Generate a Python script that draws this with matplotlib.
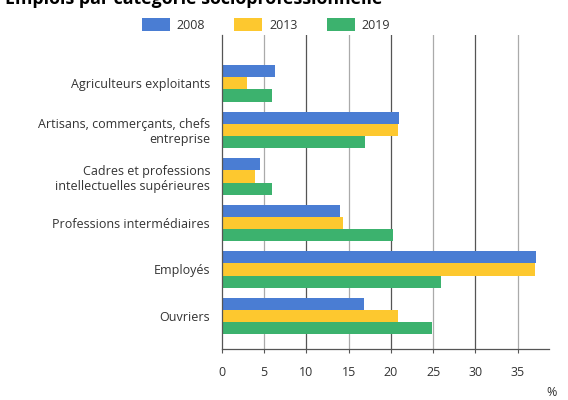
import numpy as np
import matplotlib
matplotlib.use("Agg")
import matplotlib.pyplot as plt
from matplotlib.patches import Patch

plt.rcParams['font.family'] = ['Open Sans', 'DejaVu Sans']

# Emplois par catégorie socioprofessionnelle (en %)
categories = [
    "Agriculteurs exploitants",
    "Artisans, commerçants, chefs\nentreprise",
    "Cadres et professions\nintellectuelles supérieures",
    "Professions intermédiaires",
    "Employés",
    "Ouvriers",
]
years = ["2008", "2013", "2019"]
vals_2008 = [6.3, 21.0, 4.5, 14.0, 37.2, 16.8]
vals_2013 = [3.0, 20.9, 3.9, 14.4, 37.0, 20.9]
vals_2019 = [6.0, 16.9, 6.0, 20.3, 25.9, 24.9]
colors = ['#4a7dd3', '#fdc82f', '#3cb26e']

fig = plt.figure(figsize=(5.68, 4), dpi=100)
ax = fig.add_axes([0.3903, 0.1268, 0.5762, 0.7857])

y = np.arange(len(categories))
h = 0.262
for i, vals in enumerate([vals_2008, vals_2013, vals_2019]):
    ax.barh(y + (i - 1) * h, vals, height=h, color=colors[i], zorder=2)

ax.set_xlim(0, 38.7)
ax.set_ylim(5.716, -1.04)

# grille : traits plus foncés tous les 10, plus clairs entre les deux
ax.set_xticks(np.arange(0, 36, 5))
for v in range(5, 36, 5):
    ax.axvline(v, color='#555555' if v % 10 == 0 else '#aaaaaa', lw=0.9, zorder=1)

ax.set_yticks(y)
ax.set_yticklabels(categories, fontsize=9, color='#333333', linespacing=1.2)
ax.tick_params(axis='y', length=0, pad=8.4)
ax.tick_params(axis='x', length=3, width=0.8, color='#555555', labelsize=9,
               labelcolor='#333333', pad=9)

for s in ['top', 'right']:
    ax.spines[s].set_visible(False)
for s in ['left', 'bottom']:
    ax.spines[s].set_color('#555555')
    ax.spines[s].set_linewidth(0.9)

fig.text(552 / 568, 1 - 393 / 400, "%", fontsize=9, color='#333333',
         ha='center', va='center')

handles = [Patch(facecolor=c, edgecolor='none') for c in colors]
fig.legend(handles, years, loc='center', bbox_to_anchor=(0.468, 0.938), ncol=3,
           frameon=False, fontsize=9, handlelength=2.24, handleheight=1.28,
           handletextpad=0.56, columnspacing=2.32, labelcolor='#333333')

# titre en haut, à moitié hors du cadre
fig.text(0.008, 1 - 3.5 / 400, "Emplois par catégorie socioprofessionnelle",
         fontsize=12.8, fontweight='bold', color='black', va='baseline')

fig.savefig("out.png", dpi=100)
